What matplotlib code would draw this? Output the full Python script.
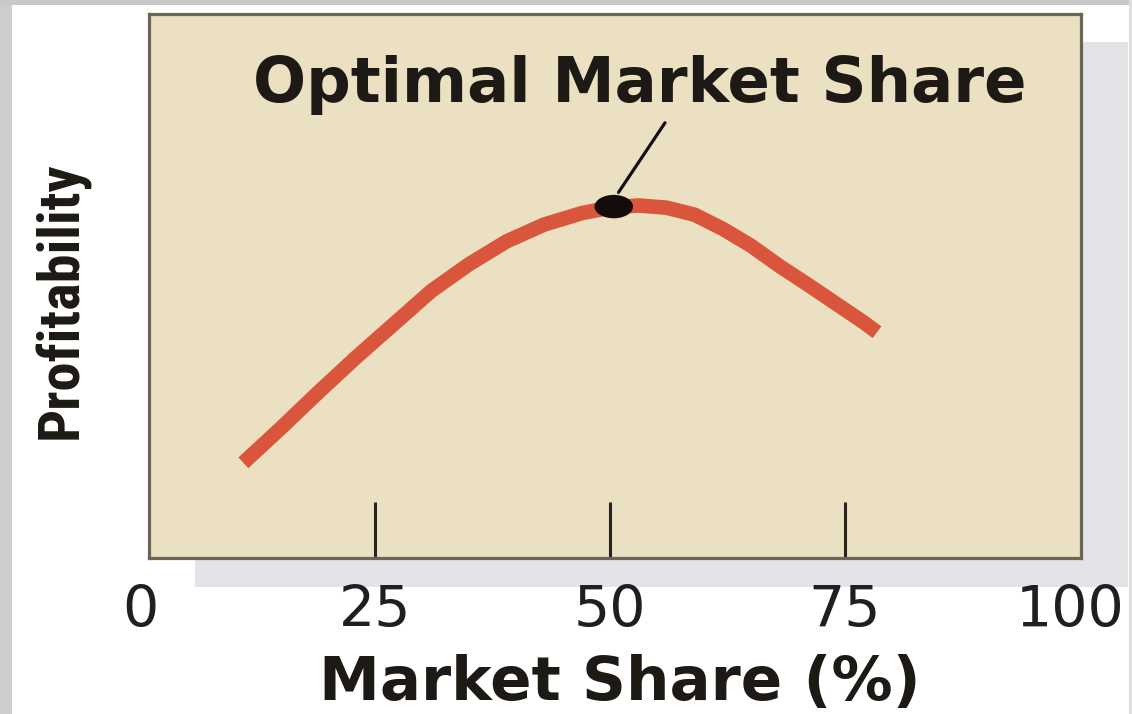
import matplotlib
matplotlib.use("Agg")
import matplotlib.pyplot as plt
from matplotlib.patches import Rectangle, Ellipse
from matplotlib.transforms import offset_copy
from matplotlib import font_manager

# Profitability curve (arbitrary 0-100 profitability scale vs. market share %)
market_share = [11.0, 15.0, 19.0, 23.0, 27.0, 31.0, 35.0, 39.0, 43.0, 47.0, 50.0,
                53.0, 56.0, 59.0, 62.0, 65.0, 68.0, 71.0, 74.0, 77.0, 78.4]
profitability = [17.5, 23.9, 30.5, 36.9, 43.0, 49.1, 54.0, 58.2, 61.3, 63.4, 64.4,
                 64.8, 64.4, 63.1, 60.5, 57.4, 53.7, 50.3, 46.8, 43.3, 41.5]

optimal_share = 50.4
optimal_profit = 64.6

tick_values = [0, 25, 50, 75, 100]
tick_labels = ["0", "25", "50", "75", "100"]
inner_ticks = [25, 50, 75]

title_text = "Optimal Market Share"
x_title = "Market Share (%)"
y_title = "Profitability"

W, H = 1132, 714
INK = "#1d1915"

# pick a narrow bold face for the vertical label if one is installed
available = {f.name for f in font_manager.fontManager.ttflist}
narrow = None
for name in ["Liberation Sans Narrow", "Roboto Condensed", "DejaVu Sans Condensed"]:
    if name in available:
        narrow = name
        break
if narrow is None:
    narrow = "DejaVu Sans"

fig = plt.figure(figsize=(W / 100, H / 100), dpi=100)
fig.patch.set_facecolor("white")


def px_rect(x0, y0, x1, y1, color, z=-1):
    """Rectangle given in pixel coords measured from the top-left corner."""
    fig.add_artist(Rectangle((x0 / W, 1 - y1 / H), (x1 - x0) / W, (y1 - y0) / H,
                             transform=fig.transFigure, facecolor=color,
                             edgecolor="none", zorder=z))


# page frame strips and drop shadow behind the plot panel
px_rect(0, 0, 12, H, "#cdcdcd")
px_rect(0, 0, W, 5, "#c8c8c8")
px_rect(W - 3, 0, W, H, "#dedede")
px_rect(195, 42, 1128, 587, "#e3e4e8")

ax = fig.add_axes([149 / W, 1 - 558 / H, (1081 - 149) / W, (558 - 14) / H])
ax.set_zorder(1)
ax.set_facecolor("#ece0c2")
for sp in ax.spines.values():
    sp.set_linewidth(2.3)
    sp.set_color("#6b6557")

ax.set_xlim(0.96, 100.1)
ax.set_ylim(0, 100)
ax.set_xticks(inner_ticks)
ax.tick_params(axis="x", direction="in", length=40, width=2.2, color="#2a2420",
               labelbottom=False)
ax.set_yticks([])

# the curve
ax.plot(market_share, profitability, color="#d9553b", lw=10.5,
        solid_capstyle="butt", solid_joinstyle="round", zorder=2)

# optimum marker
ax.add_patch(Ellipse((optimal_share, optimal_profit), 4.1, 4.3,
                     facecolor="#140c0a", edgecolor="none", zorder=3))

# leader line and caption
ax.annotate("", xy=(optimal_share + 0.5, optimal_profit + 2.6), xytext=(55.85, 80.0),
            arrowprops=dict(arrowstyle="-", lw=2.3, color="#15110e",
                            shrinkA=0, shrinkB=0), zorder=3)
ax.text(53.2, 83.8, title_text, ha="center", va="baseline", fontsize=45,
        fontweight="bold", family="DejaVu Sans", color=INK)

# tick labels sit below the panel; the last one is kept inside the page edge
label_y = (558 - 627) / 544
base_tr = ax.get_xaxis_transform()
for v, lab in zip(tick_values, tick_labels):
    if v == tick_values[-1]:
        tr = offset_copy(base_tr, fig=fig, x=44, y=0, units="dots")
        ha = "right"
    else:
        tr = base_tr
        ha = "center"
    ax.text(v, label_y, lab, transform=tr, ha=ha, va="baseline", fontsize=41,
            family="DejaVu Sans", color="#1f1f1f", clip_on=False)

ax.set_xlabel(x_title, fontsize=44, fontweight="bold", family="DejaVu Sans", color=INK)
ax.xaxis.label.set_verticalalignment("baseline")
ax.xaxis.set_label_coords((620 - 149) / 932, (558 - 700) / 544)

ax.set_ylabel(y_title, fontsize=42, fontweight="bold", family=[narrow, "DejaVu Sans"],
              color=INK)
ax.yaxis.label.set_verticalalignment("center")
ax.yaxis.label.set_horizontalalignment("center")
ax.yaxis.set_label_coords((62 - 149) / 932, (558 - 300) / 544)

fig.savefig("out.png", dpi=100)
